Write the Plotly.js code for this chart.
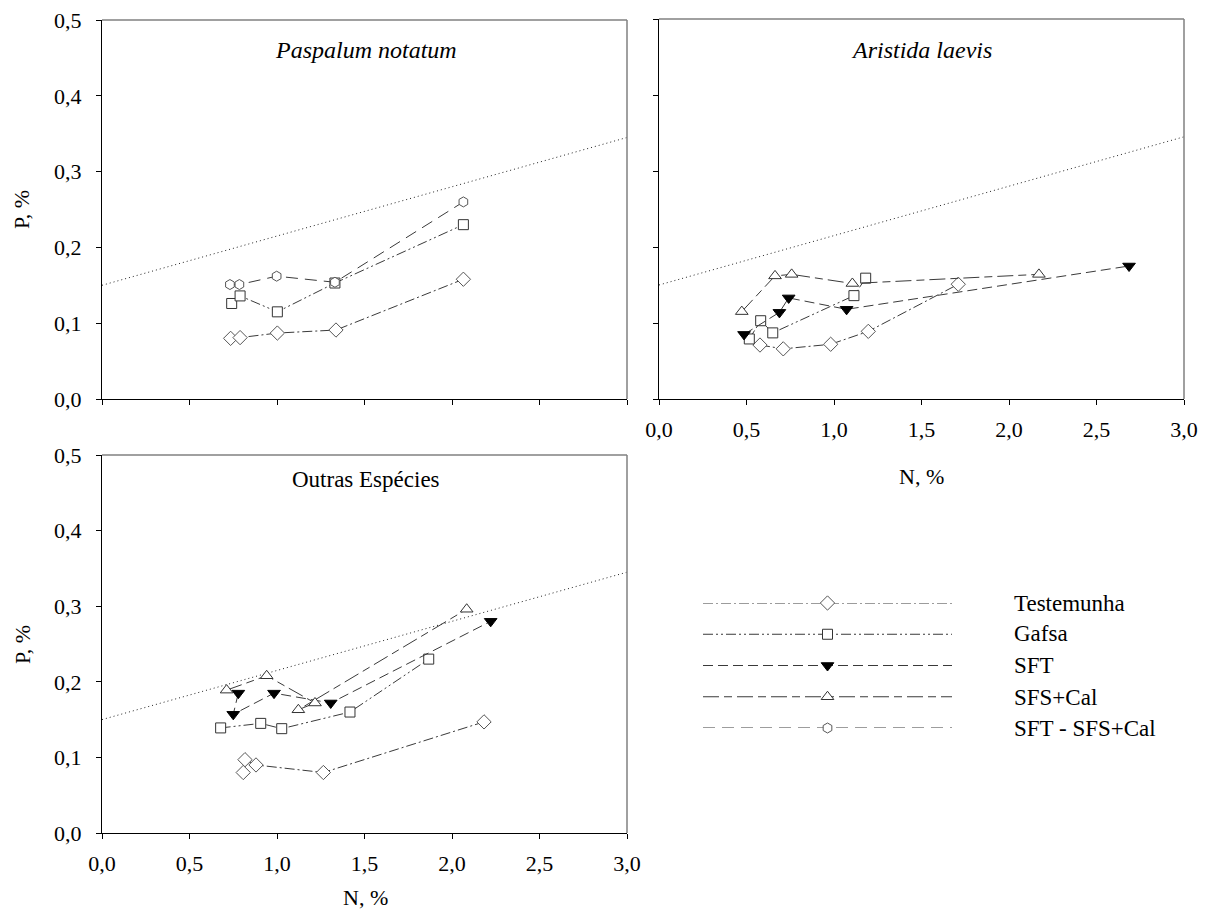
<!DOCTYPE html>
<html>
<head>
<meta charset="utf-8">
<script src="https://cdn.plot.ly/plotly-3.0.1.min.js"></script>
<style>
html,body{margin:0;padding:0;background:#fff;font-family:"Liberation Serif",serif}
#chart{width:1209px;height:922px}
#chart text{font-family:"Liberation Serif",serif !important}
</style>
</head>
<body>
<div id="chart"></div>
<script>
// ---------- data ----------
const seriesNames = ["Testemunha", "Gafsa", "SFT", "SFS+Cal", "SFT - SFS+Cal"];
const panelTitles = ["Paspalum notatum", "Aristida laevis", "Outras Espécies"];
const refX = [0, 3];
const refY = [0.15, 0.345];
const xTickVals = [0, 0.5, 1, 1.5, 2, 2.5, 3];
const yTickVals = [0, 0.1, 0.2, 0.3, 0.4, 0.5];

// Paspalum notatum
const pnTestX = [0.735, 0.789, 1.002, 1.337, 2.065];
const pnTestY = [0.080, 0.081, 0.087, 0.091, 0.158];
const pnGafX = [0.741, 0.789, 1.002, 1.331, 2.065];
const pnGafY = [0.126, 0.136, 0.115, 0.153, 0.230];
const pnMixX = [0.731, 0.785, 0.998, 1.331, 2.065];
const pnMixY = [0.151, 0.151, 0.162, 0.154, 0.260];

// Aristida laevis
const alTestX = [0.577, 0.710, 0.981, 1.196, 1.710];
const alTestY = [0.071, 0.066, 0.072, 0.089, 0.151];
const alGafX = [0.516, 0.581, 0.650, 1.114, 1.181];
const alGafY = [0.079, 0.103, 0.087, 0.136, 0.159];
const alSftX = [0.486, 0.688, 0.741, 1.072, 2.686];
const alSftY = [0.085, 0.114, 0.133, 0.118, 0.175];
const alSfsX = [0.473, 0.663, 0.758, 1.105, 2.171];
const alSfsY = [0.115, 0.162, 0.164, 0.152, 0.164];

// Outras Espécies
const oeTestX = [0.807, 0.817, 0.880, 1.265, 2.183];
const oeTestY = [0.080, 0.097, 0.090, 0.080, 0.147];
const oeGafX = [0.678, 0.907, 1.027, 1.417, 1.867];
const oeGafY = [0.139, 0.145, 0.138, 0.160, 0.230];
const oeSftX = [0.779, 0.750, 0.983, 1.307, 2.221];
const oeSftY = [0.185, 0.157, 0.185, 0.172, 0.280];
const oeSfsX = [0.712, 0.941, 1.217, 1.122, 2.084];
const oeSfsY = [0.189, 0.208, 0.172, 0.163, 0.296];

// legend sample positions (row index / x along sample)
const legendRows = [1, 2, 3, 4, 5];
const legendSampleX = [0, 0.5, 1];

// ---------- styles ----------
const FONT = "Liberation Serif";
const LINE_COLOR = "#3a3a3a";
const styles = {
  "Testemunha":    {dash: "10px,3px,2px,3px", symbol: "diamond", size: 11, fill: "#fff", color: "#555"},
  "Gafsa":         {dash: "10px,3px,2px,3px,2px,3px", symbol: "square", size: 10, fill: "#fff", color: "#333"},
  "SFT":           {dash: "10px,5px", symbol: "triangle-down", size: 11, fill: "#000", color: "#000"},
  "SFS+Cal":       {dash: "16px,5px,8px,5px", symbol: "triangle-up", size: 11, fill: "#fff", color: "#333"},
  "SFT - SFS+Cal": {dash: "12px,7px", symbol: "hexagon", size: 10, fill: "#fff", color: "#555"}
};

function series(name, x, y, xa, ya) {
  const s = styles[name];
  return {
    type: "scatter", mode: "lines+markers", name: name, showlegend: false,
    x: x, y: y, xaxis: xa, yaxis: ya,
    line: {color: LINE_COLOR, width: 1, dash: s.dash},
    marker: {symbol: s.symbol, size: s.size, color: s.fill, line: {color: s.color, width: 1}}
  };
}
function refLine(xa, ya) {
  return {type: "scatter", mode: "lines", x: refX, y: refY, xaxis: xa, yaxis: ya, showlegend: false,
          line: {color: "#222", width: 1, dash: "1px,3px"}, hoverinfo: "skip"};
}

const traces = [
  refLine("x", "y"),
  series("Testemunha", pnTestX, pnTestY, "x", "y"),
  series("Gafsa", pnGafX, pnGafY, "x", "y"),
  series("SFT - SFS+Cal", pnMixX, pnMixY, "x", "y"),

  refLine("x2", "y2"),
  series("Testemunha", alTestX, alTestY, "x2", "y2"),
  series("Gafsa", alGafX, alGafY, "x2", "y2"),
  series("SFT", alSftX, alSftY, "x2", "y2"),
  series("SFS+Cal", alSfsX, alSfsY, "x2", "y2"),

  refLine("x3", "y3"),
  series("Testemunha", oeTestX, oeTestY, "x3", "y3"),
  series("Gafsa", oeGafX, oeGafY, "x3", "y3"),
  series("SFT", oeSftX, oeSftY, "x3", "y3"),
  series("SFS+Cal", oeSfsX, oeSfsY, "x3", "y3")
];

// legend samples drawn in their own small axis
seriesNames.forEach(function (n, i) {
  const s = styles[n];
  traces.push({
    type: "scatter", mode: "lines", showlegend: false, hoverinfo: "skip", cliponaxis: false,
    x: legendSampleX, y: legendSampleX.map(function () { return legendRows[i]; }),
    xaxis: "x4", yaxis: "y4",
    line: {color: LINE_COLOR, width: 1, dash: s.dash}
  });
  traces.push({
    type: "scatter", mode: "markers", showlegend: false, hoverinfo: "skip", cliponaxis: false,
    x: [legendSampleX[1]], y: [legendRows[i]],
    xaxis: "x4", yaxis: "y4",
    marker: {symbol: s.symbol, size: s.size, color: s.fill, line: {color: s.color, width: 1}}
  });
});

const W = 1209, H = 922;
const px = function (v) { return v / W; };
const py = function (v) { return 1 - v / H; };

function xAxis(domain, showLabels, anchor) {
  return {
    domain: domain, anchor: anchor, range: [0, 3], tickvals: xTickVals, tickformat: ".1f",
    showticklabels: showLabels, ticks: "outside", ticklen: 5, tickcolor: "#000", tickwidth: 1,
    showline: true, linecolor: "#000", linewidth: 1, showgrid: false, zeroline: false,
    ticklabelstandoff: 6,
    tickfont: {family: FONT, size: 22, color: "#000"}, fixedrange: true
  };
}
function yAxis(domain, showLabels, anchor) {
  return {
    domain: domain, anchor: anchor, range: [0, 0.5], tickvals: yTickVals, tickformat: ".1f",
    showticklabels: showLabels, ticks: "outside", ticklen: 5, tickcolor: "#000", tickwidth: 1,
    showline: true, linecolor: "#000", linewidth: 1, showgrid: false, zeroline: false,
    ticklabelstandoff: 10,
    tickfont: {family: FONT, size: 22, color: "#000"}, fixedrange: true
  };
}

const p1x = [px(102), px(627)], p1y = [py(399), py(20)];
const p2x = [px(659), px(1184)], p2y = [py(399), py(19)];
const p3x = [px(102), px(627)], p3y = [py(833), py(455)];

function boxShapes(x0, x1, y0, y1) {
  return [
    {type: "line", xref: "paper", yref: "paper", x0: x0, x1: x1, y0: y1, y1: y1, line: {color: "#808080", width: 1.5}},
    {type: "line", xref: "paper", yref: "paper", x0: x1, x1: x1, y0: y0, y1: y1, line: {color: "#808080", width: 1.5}}
  ];
}

function ann(text, x, y, size, opts) {
  return Object.assign({text: text, xref: "paper", yref: "paper", x: px(x), y: py(y), showarrow: false,
    font: {family: FONT, size: size, color: "#000"}, xanchor: "center", yanchor: "middle"}, opts || {});
}

const annotations = [
  ann("<i>" + panelTitles[0] + "</i>", 366, 50, 24),
  ann("<i>" + panelTitles[1] + "</i>", 921, 50, 24),
  ann(panelTitles[2], 366, 480, 23),
  ann("P, %", 22, 210, 22, {textangle: -90}),
  ann("P, %", 22, 645, 22, {textangle: -90}),
  ann("N, %", 921, 476, 22),
  ann("N, %", 365, 897, 22)
];
const legendTextY = [603, 633, 665, 697, 728];
seriesNames.forEach(function (n, i) {
  annotations.push(ann(n, 1012, legendTextY[i], 23, {xanchor: "left"}));
});

const layout = {
  width: W, height: H, margin: {l: 0, r: 0, t: 0, b: 0},
  paper_bgcolor: "#fff", plot_bgcolor: "#fff", separators: ", ",
  showlegend: false, font: {family: FONT, size: 22, color: "#000"},
  xaxis: xAxis(p1x, false, "y"), yaxis: yAxis(p1y, true, "x"),
  xaxis2: xAxis(p2x, true, "y2"), yaxis2: yAxis(p2y, false, "x2"),
  xaxis3: xAxis(p3x, true, "y3"), yaxis3: yAxis(p3y, true, "x3"),
  xaxis4: {domain: [px(703), px(952)], anchor: "y4", range: [0, 1], visible: false, fixedrange: true},
  yaxis4: {domain: [py(728), py(603)], anchor: "x4", range: [5, 1], visible: false, fixedrange: true},
  shapes: [].concat(boxShapes(p1x[0], p1x[1], p1y[0], p1y[1]),
                    boxShapes(p2x[0], p2x[1], p2y[0], p2y[1]),
                    boxShapes(p3x[0], p3x[1], p3y[0], p3y[1])),
  annotations: annotations
};

Plotly.newPlot("chart", traces, layout, {displayModeBar: false, staticPlot: true});
</script>
</body>
</html>
